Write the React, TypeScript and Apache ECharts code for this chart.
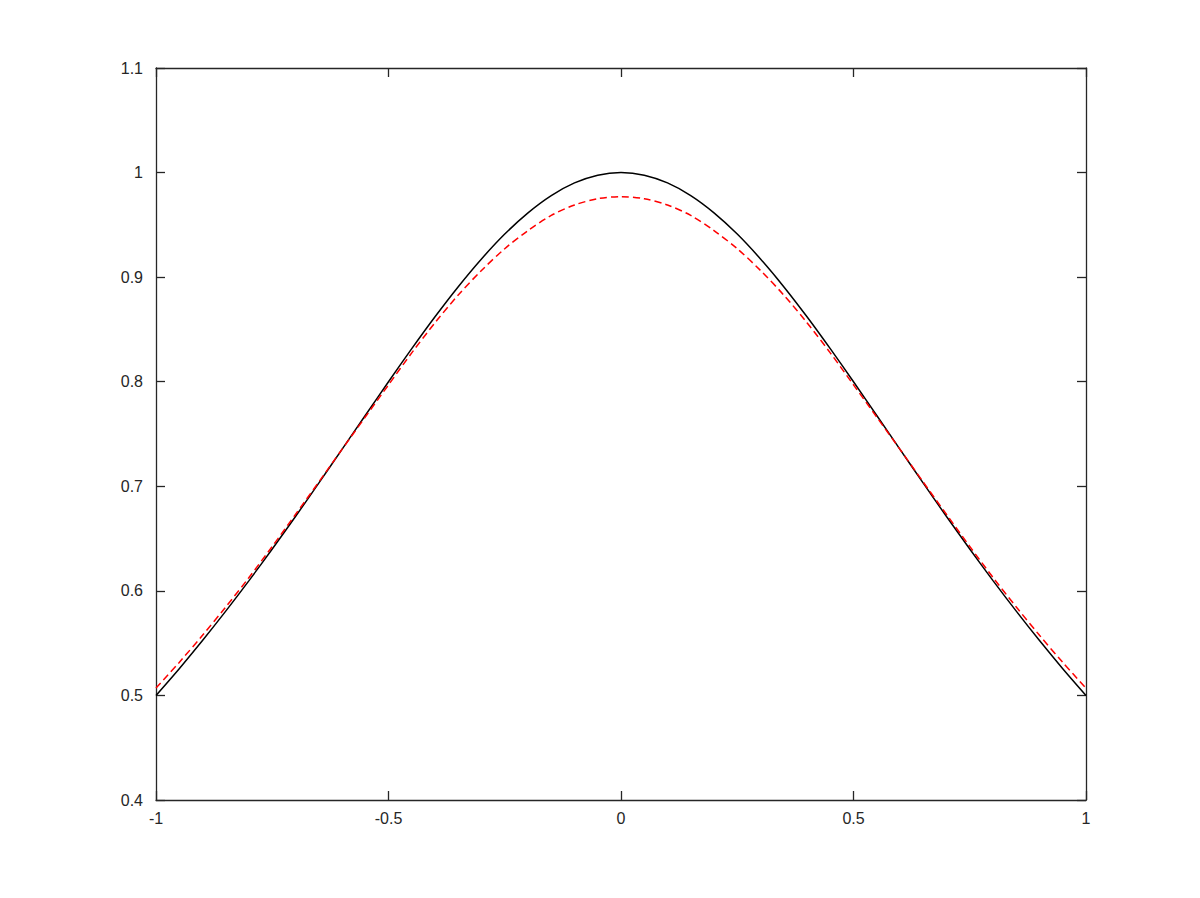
import React, { useEffect, useRef } from "react";
import * as echarts from "echarts";

const xValues = [
  -1, -0.95, -0.9, -0.85, -0.8, -0.75, -0.7, -0.65, -0.6, -0.55, -0.5, -0.45, -0.4, -0.35, -0.3, -0.25, -0.2, -0.15, -0.1, -0.05,
  0, 0.05, 0.1, 0.15, 0.2, 0.25, 0.3, 0.35, 0.4, 0.45, 0.5, 0.55, 0.6, 0.65, 0.7, 0.75, 0.8, 0.85, 0.9, 0.95, 1,
];
const exactValues = [
  0.5, 0.5256, 0.5525, 0.5806, 0.6098, 0.64, 0.6711, 0.703, 0.7353, 0.7677, 0.8, 0.8316, 0.8621, 0.8909, 0.9174, 0.9412, 0.9615, 0.978, 0.9901, 0.9975,
  1, 0.9975, 0.9901, 0.978, 0.9615, 0.9412, 0.9174, 0.8909, 0.8621, 0.8316, 0.8, 0.7677, 0.7353, 0.703, 0.6711, 0.64, 0.6098, 0.5806, 0.5525, 0.5256, 0.5,
];
const approxValues = [
  0.507, 0.5316, 0.5575, 0.5846, 0.6128, 0.6425, 0.6731, 0.704, 0.7353, 0.7662, 0.797, 0.8276, 0.8564, 0.8829, 0.9064, 0.9272, 0.9445, 0.959, 0.969, 0.975,
  0.977, 0.975, 0.969, 0.959, 0.9445, 0.9272, 0.9064, 0.8829, 0.8564, 0.8276, 0.797, 0.7662, 0.7353, 0.704, 0.6731, 0.6425, 0.6128, 0.5846, 0.5575, 0.5316, 0.507,
];

const axisColor = "#262626";
const labelFont = { color: "#262626", fontFamily: "Liberation Sans, Arial, sans-serif", fontSize: 16 };

export default function App() {
  const ref = useRef<HTMLDivElement>(null);
  useEffect(() => {
    if (!ref.current) return;
    const chart = echarts.init(ref.current, null, { renderer: "svg" });
    const xBase = {
      type: "value" as const,
      min: -1,
      max: 1,
      interval: 0.5,
      splitLine: { show: false },
      axisLine: { show: true, onZero: false, lineStyle: { color: axisColor, width: 1.3 } },
      axisTick: { show: true, inside: true, length: 9, lineStyle: { color: axisColor, width: 1.3 } },
    };
    const yBase = {
      type: "value" as const,
      min: 0.4,
      max: 1.1,
      interval: 0.1,
      splitLine: { show: false },
      axisLine: { show: true, onZero: false, lineStyle: { color: axisColor, width: 1.3 } },
      axisTick: { show: true, inside: true, length: 9, lineStyle: { color: axisColor, width: 1.3 } },
    };
    chart.setOption({
      animation: false,
      backgroundColor: "#ffffff",
      grid: { left: 156, right: 114, top: 68, bottom: 98 },
      xAxis: [
        { ...xBase, position: "bottom", axisLabel: { ...labelFont, margin: 10 } },
        { ...xBase, position: "top", axisLabel: { show: false } },
      ],
      yAxis: [
        { ...yBase, position: "left", axisLabel: { ...labelFont, margin: 13 } },
        { ...yBase, position: "right", axisLabel: { show: false } },
      ],
      series: [
        {
          type: "line",
          xAxisIndex: 0,
          yAxisIndex: 0,
          data: xValues.map((x, i) => [x, exactValues[i]]),
          smooth: 0.3,
          showSymbol: false,
          lineStyle: { color: "#000000", width: 1.5 },
        },
        {
          type: "line",
          xAxisIndex: 0,
          yAxisIndex: 0,
          data: xValues.map((x, i) => [x, approxValues[i]]),
          smooth: 0.3,
          showSymbol: false,
          lineStyle: { color: "#ff0000", width: 1.5, type: [7, 4] },
        },
      ],
    });
    return () => chart.dispose();
  }, []);
  return <div ref={ref} style={{ position: "fixed", left: 0, top: 0, width: 1200, height: 898 }} />;
}
